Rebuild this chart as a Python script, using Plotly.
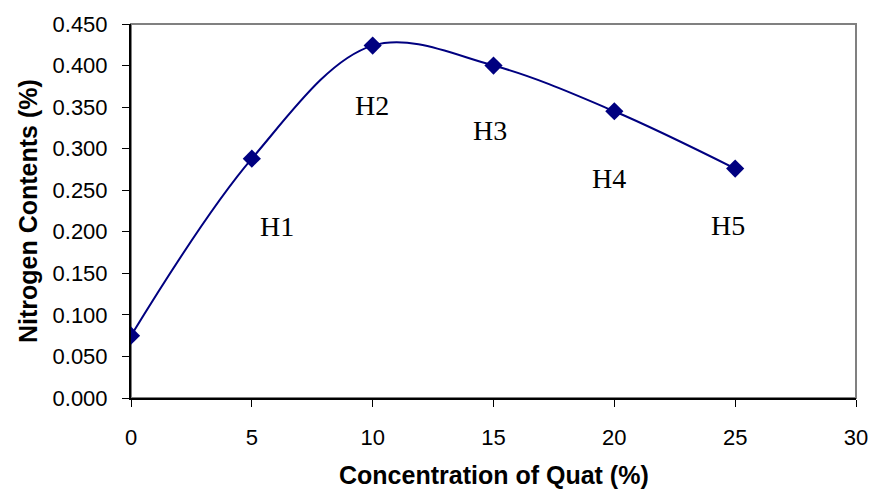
import plotly.graph_objects as go

conc = [0, 5, 10, 15, 20, 25]
nitrogen = [0.075, 0.288, 0.424, 0.400, 0.345, 0.276]
labels = ["", "H1", "H2", "H3", "H4", "H5"]
x_ticks = [0, 5, 10, 15, 20, 25, 30]
y_ticks = [0.0, 0.05, 0.10, 0.15, 0.20, 0.25, 0.30, 0.35, 0.40, 0.45]

# pixel offsets of each label relative to its point
label_shift = [(0, 0), (25, -68), (-1, -60), (-4, -65), (-5, -67), (-7, -57)]

navy = "#000080"
fig = go.Figure()
fig.add_trace(go.Scatter(
    x=conc, y=nitrogen, mode="lines+markers",
    line=dict(color=navy, width=2, shape="spline", smoothing=1.0),
    marker=dict(symbol="diamond", size=14, color=navy),
    showlegend=False, hoverinfo="x+y",
))

for xv, yv, lab, (dx, dy) in zip(conc, nitrogen, labels, label_shift):
    if not lab:
        continue
    fig.add_annotation(x=xv, y=yv, text=lab, showarrow=False,
                       xshift=dx, yshift=dy, xanchor="center", yanchor="middle",
                       font=dict(family="Liberation Serif", size=28, color="black"))

fig.add_shape(type="rect", xref="paper", yref="paper", x0=0, y0=0, x1=1, y1=1,
              line=dict(color="#808080", width=2), layer="below")

fig.add_annotation(xref="paper", yref="paper", x=0.5, y=-0.206, text="<b>Concentration of Quat (%)</b>",
                   showarrow=False, xanchor="center", yanchor="middle",
                   font=dict(family="Liberation Sans", size=25, color="black"))
fig.add_annotation(xref="paper", yref="paper", x=-0.142, y=0.5, text="<b>Nitrogen Contents (%)</b>",
                   showarrow=False, xanchor="center", yanchor="middle", textangle=-90,
                   font=dict(family="Liberation Sans", size=25, color="black"))

fig.update_layout(
    width=880, height=492,
    margin=dict(l=131, r=17, t=24, b=94),
    paper_bgcolor="white", plot_bgcolor="white",
    font=dict(family="Liberation Sans", size=22, color="black"),
    xaxis=dict(range=[0, 30], tickvals=x_ticks, ticktext=[str(v) for v in x_ticks],
               showgrid=False, zeroline=False, showline=True, linecolor="black", linewidth=2,
               ticks="outside", ticklen=7, tickcolor="black", tickwidth=1,
               ticklabelstandoff=12),
    yaxis=dict(range=[0, 0.45], tickvals=y_ticks, ticktext=[f"{v:.3f}" for v in y_ticks],
               showgrid=False, zeroline=False, showline=True, linecolor="black", linewidth=2,
               ticks="outside", ticklen=7, tickcolor="black", tickwidth=1,
               ticklabelstandoff=10),
)

fig.write_html("out.html")
